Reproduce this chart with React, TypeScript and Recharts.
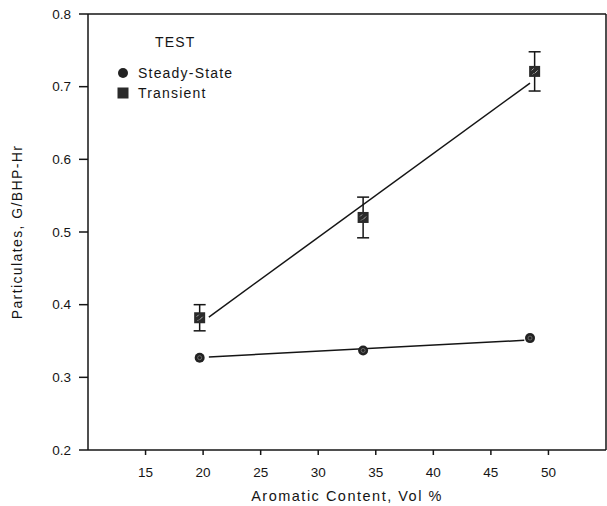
import { ComposedChart, Scatter, XAxis, YAxis, ErrorBar, ReferenceLine, Legend } from 'recharts'

const xTicks = [15, 20, 25, 30, 35, 40, 45, 50]
const yTicks = [0.2, 0.3, 0.4, 0.5, 0.6, 0.7, 0.8]

const steadyX = [19.7, 33.9, 48.4]
const steadyY = [0.327, 0.337, 0.354]

const transientX = [19.7, 33.9, 48.8]
const transientY = [0.382, 0.52, 0.721]
const transientErr = [0.018, 0.028, 0.027]

// fitted lines as drawn in the figure (end points)
const steadyFitX = [20.5, 47.9]
const steadyFitY = [0.328, 0.351]
const transientFitX = [20.5, 48.4]
const transientFitY = [0.383, 0.705]

const steady = steadyX.map((x, i) => ({ x, y: steadyY[i] }))
const transient = transientX.map((x, i) => ({ x, y: transientY[i], err: transientErr[i] }))
const steadyFit = steadyFitX.map((x, i) => ({ x, y: steadyFitY[i] }))
const transientFit = transientFitX.map((x, i) => ({ x, y: transientFitY[i] }))

const font = '"Liberation Sans", Arial, sans-serif'
const ink = '#151515'

function Dot(props: any) {
  const { cx, cy } = props
  return (
    <g>
      <circle cx={cx} cy={cy} r={5} fill="#222" />
      <circle cx={cx} cy={cy} r={2} fill="none" stroke="#777" strokeWidth={0.8} />
    </g>
  )
}

function Square(props: any) {
  const { cx, cy } = props
  return (
    <g>
      <rect x={cx - 5.5} y={cy - 5.5} width={11} height={11} fill="#2a2a2a" />
      <path d={`M${cx - 3} ${cy - 1}l2 -2M${cx} ${cy + 2}l3 -3M${cx - 2} ${cy + 3}l1 -1`} stroke="#aaa" strokeWidth={1} />
    </g>
  )
}

const Nothing = () => <g />

function LegendBox() {
  return (
    <div style={{ fontFamily: font, fontSize: 14, letterSpacing: 1.2, color: ink, width: 160 }}>
      <div style={{ paddingLeft: 39, fontSize: 14, height: 30, lineHeight: '18px' }}>TEST</div>
      <div style={{ display: 'flex', alignItems: 'center', height: 20 }}>
        <svg width={14} height={14} style={{ marginRight: 8 }}>
          <circle cx={7} cy={7} r={5} fill="#222" />
        </svg>
        Steady-State
      </div>
      <div style={{ display: 'flex', alignItems: 'center', height: 20 }}>
        <svg width={14} height={14} style={{ marginRight: 8 }}>
          <rect x={1.5} y={1.5} width={11} height={11} fill="#2a2a2a" />
        </svg>
        Transient
      </div>
    </div>
  )
}

export default function App() {
  return (
    <div style={{ position: 'absolute', left: 0, top: 0, background: '#fff' }}>
      <ComposedChart width={607} height={506} margin={{ top: 14, right: 1, bottom: 0, left: 0 }}>
        <XAxis
          type="number"
          dataKey="x"
          domain={[10, 55]}
          ticks={xTicks}
          height={56}
          tickSize={5}
          tickMargin={12}
          stroke={ink}
          strokeWidth={1.5}
          tick={{ fill: ink, fontSize: 13.5, fontFamily: font }}
          label={{
            content: () => (
              <text x={347} y={496} textAnchor="middle" dominantBaseline="central" fill={ink} fontSize={14.5} letterSpacing={1.5} fontFamily={font}>
                Aromatic Content, Vol %
              </text>
            )
          }}
        />
        <YAxis
          type="number"
          dataKey="y"
          domain={[0.2, 0.8]}
          ticks={yTicks}
          width={88}
          tickSize={9}
          tickMargin={8}
          stroke={ink}
          strokeWidth={1.5}
          tickFormatter={(v: number) => v.toFixed(1)}
          tick={{ fill: ink, fontSize: 13.5, fontFamily: font }}
          label={{
            content: () => (
              <text x={17} y={232} transform="rotate(-90 17 232)" textAnchor="middle" dominantBaseline="central" fill={ink} fontSize={14} letterSpacing={1.4} fontFamily={font}>
                Particulates, G/BHP-Hr
              </text>
            )
          }}
        />
        <ReferenceLine y={0.8} stroke={ink} strokeWidth={1.5} />
        <ReferenceLine x={55} stroke={ink} strokeWidth={1.5} />
        <Legend
          layout="horizontal"
          verticalAlign="middle"
          content={() => <LegendBox />}
          wrapperStyle={{ position: 'absolute', left: 116, top: 33, width: 160 }}
        />
        <Scatter data={steadyFit} line={{ stroke: ink, strokeWidth: 1.5 }} shape={Nothing} isAnimationActive={false} legendType="none" />
        <Scatter data={transientFit} line={{ stroke: ink, strokeWidth: 1.5 }} shape={Nothing} isAnimationActive={false} legendType="none" />
        <Scatter name="Steady-State" data={steady} shape={Dot} isAnimationActive={false} />
        <Scatter name="Transient" data={transient} shape={Square} isAnimationActive={false}>
          <ErrorBar dataKey="err" direction="y" width={6} stroke={ink} strokeWidth={1.5} />
        </Scatter>
      </ComposedChart>
    </div>
  )
}
